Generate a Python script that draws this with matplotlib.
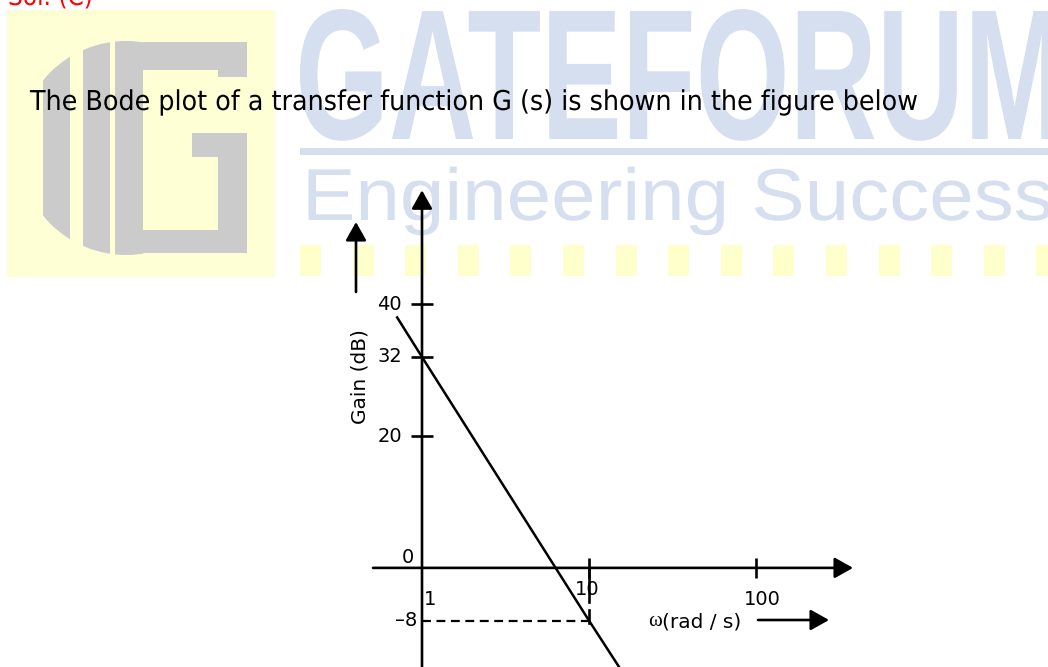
import matplotlib
matplotlib.use('Agg')
import matplotlib.pyplot as plt
import matplotlib.patheffects as pe
from matplotlib.transforms import Affine2D
from matplotlib.patches import Rectangle, Circle
import numpy as np

# values
gain_ticks = [40, 32, 20]          # dB, labelled on the gain axis
freq_ticks = [1, 10, 100]          # rad/s, labelled on the frequency axis
bode_w = [0.71, 1, 10, 17]         # asymptote, rad/s
bode_gain = [38, 32, -8, -17]      # asymptote, dB
mark_w, mark_gain = 10, -8         # dashed reading at w = 10
zero_label, mark_label = '0', '\u20138'

title = 'The Bode plot of a transfer function G (s) is shown in the figure below'

W, H = 1048, 667
# pixel anchors of the sketch: w = 1 column, one decade, 32 dB row, px per dB
X0_PX, DEC_PX, Y32_PX, DB_PX = 422, 167, 357, 6.59

BLUE = '#d5dff0'
YELLOW = '#ffffd6'
GREY = '#cbcbcb'


class Squeeze(pe.AbstractPathEffect):
    """Scale glyphs horizontally about the text origin (condensed look)."""

    def __init__(self, sx):
        super().__init__()
        self.sx = sx

    def draw_path(self, renderer, gc, tpath, affine, rgbFace=None):
        ox, oy = affine.transform((0, 0))
        squash = Affine2D().translate(-ox, -oy).scale(self.sx, 1).translate(ox, oy)
        renderer.draw_path(gc, tpath, affine + squash, rgbFace)


fig = plt.figure(figsize=(W / 100, H / 100), dpi=100)
renderer = fig.canvas.get_renderer()

# ---- background page (pixel coords, y down) ----
bg = fig.add_axes([0, 0, 1, 1], zorder=0)
bg.set_xlim(0, W)
bg.set_ylim(H, 0)
bg.axis('off')

bg.add_patch(Rectangle((7, 10), 268, 267, fc=YELLOW, ec='none'))

# logo: striped circle side + block G
clip = Circle((126, 148), 107, transform=bg.transData)
for x0, x1 in [(43, 70), (83, 110), (115, 143)]:
    r = Rectangle((x0, 20), x1 - x0, 260, fc=GREY, ec='none')
    bg.add_patch(r)
    r.set_clip_path(clip)
for (x0, y0, x1, y1) in [(143, 42, 247, 70), (218, 42, 247, 77), (192, 133, 247, 157),
                         (218, 133, 247, 253), (143, 230, 247, 253), (130, 43, 143, 253)]:
    bg.add_patch(Rectangle((x0, y0), x1 - x0, y1 - y0, fc=GREY, ec='none'))

for x in np.arange(300, W, 52.6):
    bg.add_patch(Rectangle((x, 245), 21, 31, fc='#ffffcc', ec='none'))

bg.add_patch(Rectangle((300, 148), W - 300, 7, fc=BLUE, ec='none'))

wm1 = bg.text(295, 139, 'GATEFORUM', fontsize=134, fontweight='bold',
              family=['Liberation Sans', 'DejaVu Sans'], color=BLUE, va='baseline')
wm2 = bg.text(302, 220, 'Engineering Success', fontsize=53,
              family=['Liberation Sans', 'DejaVu Sans'], color=BLUE, va='baseline')
head = bg.text(30, 110, title, fontsize=19.7, color='black', va='baseline', zorder=5)
sol = bg.text(8, 5, 'Sol. (C)', fontsize=19, color='red', va='baseline')

for t, target in [(wm1, 770), (wm2, 752), (head, 891), (sol, 85)]:
    t.set_path_effects([Squeeze(target / t.get_window_extent(renderer).width)])

# axis captions and their arrows
bg.text(360, 377, 'Gain (dB)', fontsize=14.5, rotation=90, ha='center', va='center')
bg.annotate('', xy=(356, 222), xytext=(356, 292),
            arrowprops=dict(arrowstyle='-|>,head_length=0.8,head_width=0.45',
                            mutation_scale=14, lw=1.9, color='k', shrinkA=0, shrinkB=0))
bg.text(662, 622, '\u03c9', fontsize=15, family='Liberation Serif', ha='right', va='center')
bg.text(662, 622, '(rad / s)', fontsize=14.5, ha='left', va='center')
bg.annotate('', xy=(829, 620), xytext=(758, 620),
            arrowprops=dict(arrowstyle='-|>,head_length=0.8,head_width=0.45',
                            mutation_scale=14, lw=1.9, color='k', shrinkA=0, shrinkB=0))

# ---- Bode axes (log w, dB) ----
ax = fig.add_axes([0, 0, 1, 1], zorder=1)
ax.patch.set_alpha(0)
ax.set_xscale('log')
ax.set_xlim(10 ** (-X0_PX / DEC_PX), 10 ** ((W - X0_PX) / DEC_PX))
ax.set_ylim(32 - (H - Y32_PX) / DB_PX, 32 + Y32_PX / DB_PX)
ax.axis('off')

arrow = dict(arrowstyle='-|>,head_length=0.8,head_width=0.45', mutation_scale=14,
             lw=1.9, color='k', shrinkA=0, shrinkB=0)
ax.annotate('', xy=(1, 57.3), xytext=(1, ax.get_ylim()[0]), arrowprops=arrow)
ax.annotate('', xy=(381, 0), xytext=(0.509, 0), arrowprops=arrow)

ax.plot([1] * len(gain_ticks), gain_ticks, ls='none', marker='_', ms=16.5, mew=1.9, color='k')
ax.plot(freq_ticks[1:], [0] * len(freq_ticks[1:]), ls='none', marker='|', ms=15, mew=1.9, color='k')
ax.plot([mark_w, mark_w], [0, -5.2], color='k', lw=1.9)
ax.plot([mark_w, mark_w], [-6.4, mark_gain - 0.3], color='k', lw=1.9)

ax.plot(bode_w, bode_gain, color='k', lw=1.8)
ax.plot([1, mark_w], [mark_gain, mark_gain], color='k', lw=1.6, ls=(0, (4, 2.5)))

for g in gain_ticks:
    ax.annotate(str(g), (1, g), xytext=(-20, 0), textcoords='offset pixels',
                ha='right', va='center', fontsize=14)
ax.annotate(zero_label, (1, 0), xytext=(-14, 10), textcoords='offset pixels',
            ha='center', va='center', fontsize=14)
ax.annotate(mark_label, (1, mark_gain), xytext=(-5, 0), textcoords='offset pixels',
            ha='right', va='center', fontsize=14)
for f, off in zip(freq_ticks, [(8, -32), (-2, -22), (6, -32)]):
    ax.annotate(str(f), (f, 0), xytext=off, textcoords='offset pixels',
                ha='center', va='center', fontsize=14)

fig.savefig('out.png', dpi=100)
